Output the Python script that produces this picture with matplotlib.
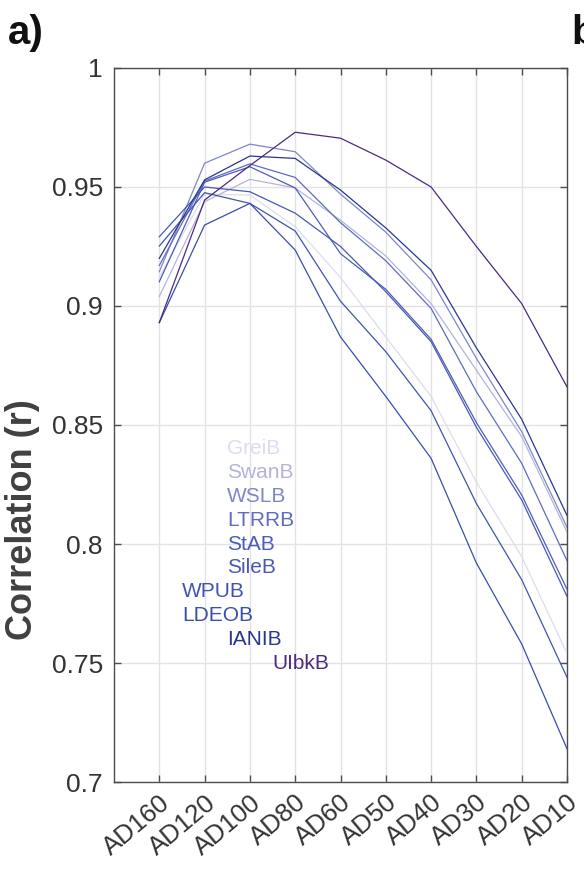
import matplotlib
matplotlib.use("Agg")
import matplotlib.pyplot as plt

# Reconstruction windows (oldest to most recent)
periods = ["AD160", "AD120", "AD100", "AD80", "AD60", "AD50", "AD40", "AD30", "AD20", "AD10"]

# Correlation (r) of each chronology per window
GreiB = [0.912, 0.947, 0.9466, 0.9333, 0.912, 0.887, 0.862, 0.826, 0.7947, 0.754]
SwanB = [0.904, 0.9438, 0.9532, 0.9496, 0.936, 0.921, 0.901, 0.873, 0.8451, 0.805]
WSLB = [0.9144, 0.960, 0.968, 0.9648, 0.947, 0.931, 0.911, 0.878, 0.8472, 0.807]
LTRRB = [0.917, 0.9525, 0.9597, 0.954, 0.935, 0.919, 0.899, 0.864, 0.8339, 0.793]
StAB = [0.9102, 0.952, 0.9585, 0.9496, 0.922, 0.907, 0.886, 0.851, 0.8206, 0.781]
SileB = [0.9291, 0.950, 0.948, 0.939, 0.925, 0.906, 0.885, 0.849, 0.8185, 0.778]
WPUB = [0.9252, 0.9476, 0.9431, 0.9315, 0.902, 0.8808, 0.856, 0.817, 0.785, 0.744]
LDEOB = [0.893, 0.934, 0.9431, 0.9235, 0.887, 0.862, 0.836, 0.792, 0.758, 0.714]
IANIB = [0.920, 0.953, 0.963, 0.962, 0.9487, 0.9328, 0.915, 0.8824, 0.8524, 0.812]
UIbkB = [0.893, 0.9445, 0.959, 0.973, 0.9705, 0.9613, 0.950, 0.925, 0.901, 0.866]

names = ["GreiB", "SwanB", "WSLB", "LTRRB", "StAB", "SileB", "WPUB", "LDEOB", "IANIB", "UIbkB"]
series = [GreiB, SwanB, WSLB, LTRRB, StAB, SileB, WPUB, LDEOB, IANIB, UIbkB]
colors = ["#dcdcf0", "#b3b3de", "#7f86c9", "#5f6bbf", "#4b5db6", "#4759b3",
          "#3f54ae", "#3a4ea7", "#2a3592", "#4c2a80"]

plt.rcParams["font.family"] = ["Liberation Sans", "DejaVu Sans"]

fig = plt.figure(figsize=(5.84, 8.77), dpi=100)
ax = fig.add_axes([0.1952, 0.1083, 0.7757, 0.8142])

x = list(range(1, len(periods) + 1))
for name, vals, col in zip(names, series, colors):
    ax.plot(x, vals, color=col, lw=0.9, zorder=3)

# Name labels stacked in the lower-left, coloured like their lines
label_x = [2.5, 2.5, 2.5, 2.5, 2.5, 2.5, 1.5, 1.5, 2.5, 3.5]
for i, (name, col) in enumerate(zip(names, colors)):
    ax.text(label_x[i], 0.84 - 0.01 * i, name, color=col, fontsize=15,
            ha="left", va="center", zorder=4)

ax.set_xlim(0, 10)
ax.set_ylim(0.7, 1.0)
ax.set_xticks(x)
ax.set_xticklabels(periods, rotation=40, ha="right", va="top",
                   rotation_mode="anchor")
yt = [0.7, 0.75, 0.8, 0.85, 0.9, 0.95, 1.0]
ax.set_yticks(yt)
ax.set_yticklabels(["0.7", "0.75", "0.8", "0.85", "0.9", "0.95", "1"])

ax.grid(True, color="#e3e3e3", lw=1.0, zorder=0)
ax.set_axisbelow(True)
for s in ax.spines.values():
    s.set_color("#4d4d4d")
    s.set_linewidth(1.0)
ax.tick_params(axis="both", direction="in", length=5, width=1.0,
               colors="#4d4d4d", labelcolor="#333333", labelsize=19,
               top=True, right=True)
ax.tick_params(axis="x", pad=6, labelsize=18.5)
ax.tick_params(axis="y", pad=8)

ax.set_ylabel("Correlation (r)", fontsize=26, fontweight="bold", color="#404040")
ax.yaxis.set_label_coords(-0.163, 0.367)

fig.text(8 / 584, 1 - 44 / 877, "a)", fontsize=29, fontweight="bold", color="#111111")
fig.text(571 / 584, 1 - 44 / 877, "b)", fontsize=29, fontweight="bold", color="#111111")

fig.savefig("out.png", dpi=100)
